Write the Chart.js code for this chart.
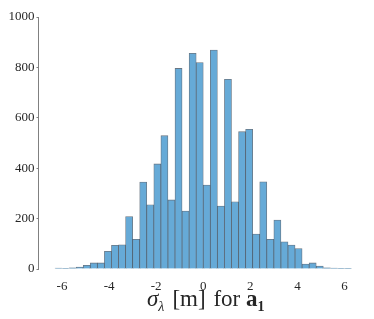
<!DOCTYPE html>
<html>
<head>
<meta charset="utf-8">
<script src="https://cdn.jsdelivr.net/npm/chart.js@4.4.1/dist/chart.umd.min.js"></script>
<style>
  html, body { margin: 0; padding: 0; background: #fff; }
  #wrap { position: relative; width: 374px; height: 319px; }
  #xlabel {
    position: absolute; left: 147px; top: 287px;
    font-family: "Liberation Serif", serif; font-size: 23px; color: #262626;
    white-space: nowrap; line-height: 1;
  }
  #xlabel sub { font-size: 14px; position: relative; top: 5px; vertical-align: baseline; line-height: 0; }
  .sp { display: inline-block; width: 8px; }
  .sp2 { display: inline-block; width: 2px; }
</style>
</head>
<body>
<div id="wrap">
  <canvas id="c" width="374" height="319"></canvas>
  <div id="xlabel"><i>σ</i><sub><i>λ</i></sub><span class="sp"></span>[m]<span class="sp2"></span> for <b>a<sub>1</sub></b></div>
</div>
<script>
const binCenters = [-6.15,-5.85,-5.55,-5.25,-4.95,-4.65,-4.35,-4.05,-3.75,-3.45,-3.15,-2.85,-2.55,-2.25,-1.95,-1.65,-1.35,-1.05,-0.75,-0.45,-0.15,
                     0.15,0.45,0.75,1.05,1.35,1.65,1.95,2.25,2.55,2.85,3.15,3.45,3.75,4.05,4.35,4.65,4.95,5.25,5.55,5.85,6.15];
const counts = [4,1,5,8,15,24,24,70,94,96,208,118,345,255,417,529,274,796,230,856,819,
                333,869,250,753,267,545,554,139,346,118,194,108,95,81,20,24,12,5,4,1,3];
const xTicks = [-6,-4,-2,0,2,4,6];
const yTicks = [0,200,400,600,800,1000];

new Chart(document.getElementById('c'), {
  type: 'bar',
  data: {
    datasets: [{
      data: binCenters.map((c, i) => ({ x: c, y: counts[i] })),
      backgroundColor: '#66aad7',
      borderColor: 'rgba(25,45,65,0.65)',
      borderWidth: 0.8,
      barPercentage: 1,
      categoryPercentage: 1,
      grouped: false
    }]
  },
  options: {
    responsive: false,
    animation: false,
    devicePixelRatio: 1,
    layout: { padding: { top: 17, right: 6, left: 0, bottom: 0 } },
    plugins: { legend: { display: false }, tooltip: { enabled: false } },
    scales: {
      x: {
        type: 'linear', min: -7, max: 7, offset: false,
        afterBuildTicks: s => { s.ticks = xTicks.map(v => ({ value: v })); },
        afterFit: s => { s.height = 50; },
        grid: { display: false },
        border: { display: false },
        ticks: { color: '#262626', padding: 2, font: { family: 'Liberation Serif', size: 13 },
                 callback: v => String(v) }
      },
      y: {
        min: 0, max: 1000,
        afterBuildTicks: s => { s.ticks = yTicks.map(v => ({ value: v })); },
        afterFit: s => { s.width = 38.5; },
        grid: { display: true, drawOnChartArea: false, drawTicks: true, tickLength: 2, color: '#808080' },
        border: { display: true, color: '#808080', width: 1 },
        ticks: { color: '#262626', padding: 2, font: { family: 'Liberation Serif', size: 13 },
                 callback: v => String(v) }
      }
    }
  }
});
</script>
</body>
</html>
